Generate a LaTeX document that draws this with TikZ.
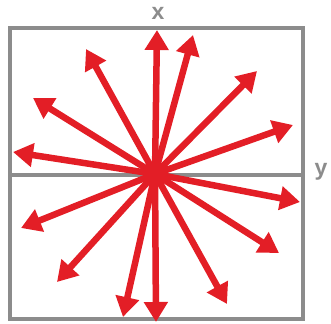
\documentclass[tikz,border=0pt]{standalone}
\usepackage{fontspec}
\setmainfont{Liberation Sans}
\usetikzlibrary{arrows.meta}
\definecolor{rd}{HTML}{E31E26}
\definecolor{gr}{HTML}{8C8C8C}
\tikzset{
  ray/.style={draw=rd, line width=6.5pt, -{Triangle[length=20pt,width=23pt]}},
  frame/.style={draw=gr, line width=3.5pt},
  lbl/.style={text=gr, font=\bfseries\fontsize{23}{25}\selectfont, inner sep=0pt}
}
\begin{document}
\begin{tikzpicture}[x=1pt,y=-1pt]
\useasboundingbox (0,0) rectangle (331,323);
\draw[frame] (10,28) rectangle (303,319);
\draw[frame] (10,175) -- (303,175);
\node[lbl] (lx) at (158,13) {x};
\node[lbl] (ly) at (321,172) {y};
\coordinate (c) at (155,174);
\foreach \n/\p in {a/{157,30}, b/{193,35}, d/{86,49}, e/{257,71}, f/{33,98}, g/{293,125}, h/{13,152}, i/{300,202}, j/{21,228}, k/{279,253}, l/{57,282}, m/{227,304}, n/{123,317}, o/{156,322}}{
  \coordinate (t\n) at (\p);
  \draw[ray] (c) -- (t\n);
}
\fill[rd] (c) circle (12pt);
\end{tikzpicture}
\end{document}
